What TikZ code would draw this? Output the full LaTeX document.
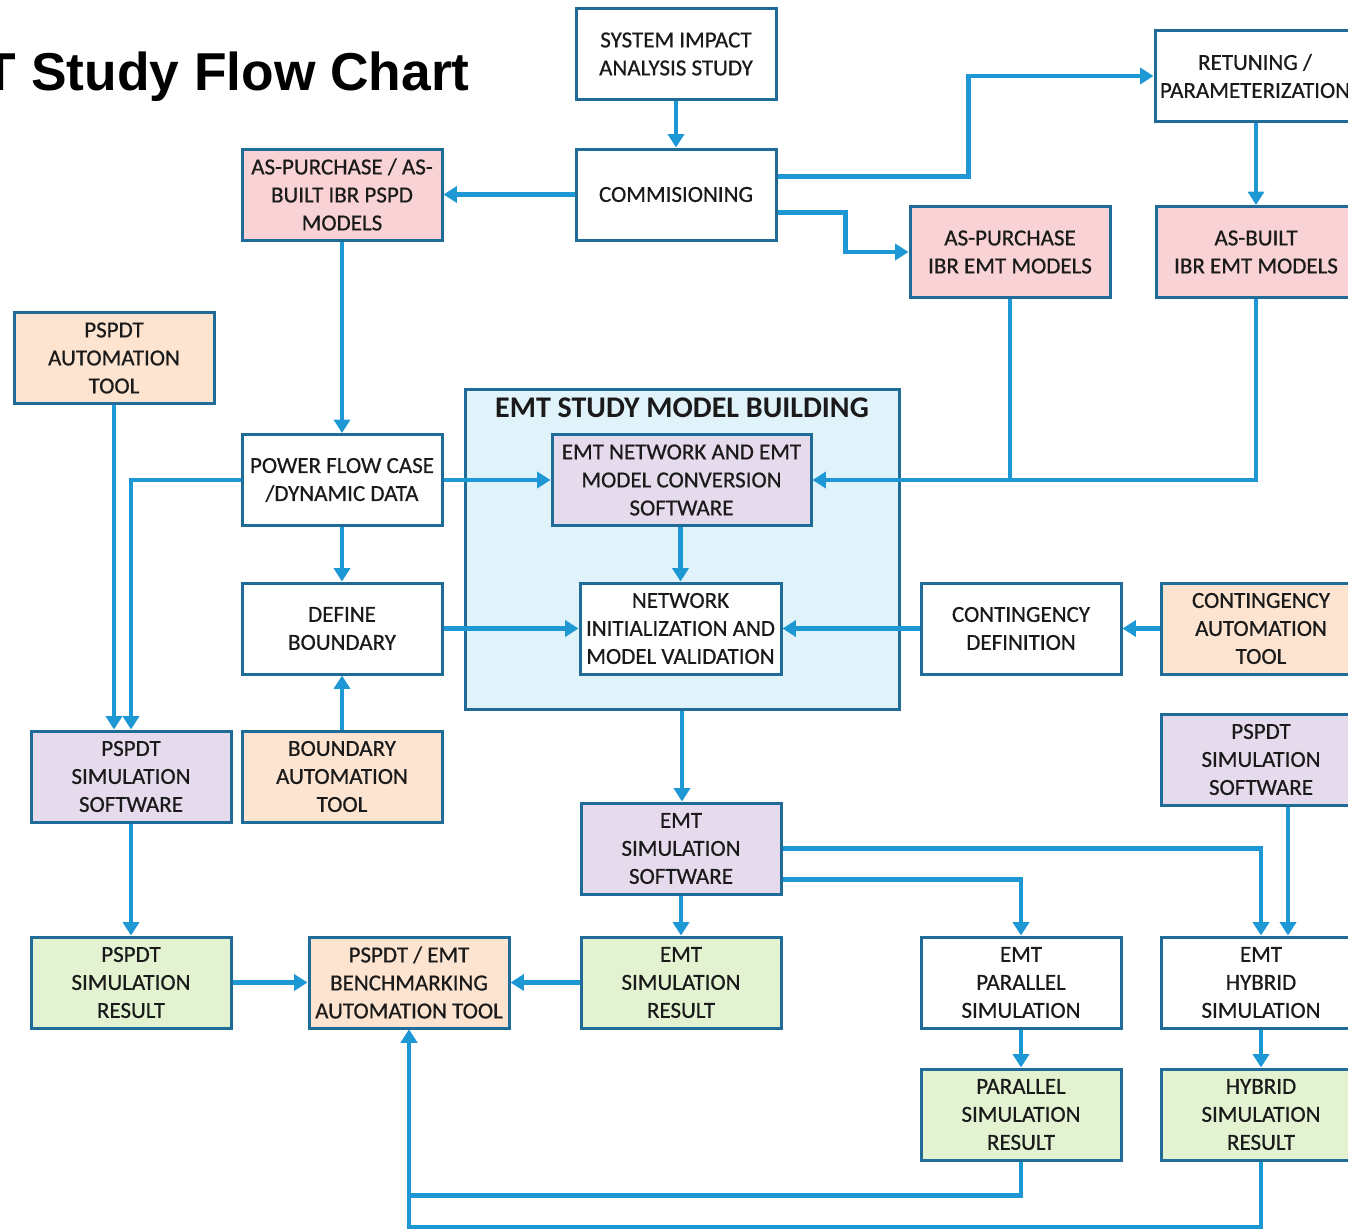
\documentclass[tikz,border=0pt]{standalone}
\usepackage{fontspec}
\usetikzlibrary{arrows.meta,calc}
\newfontfamily\carl[FakeBold=0.6]{Carlito}
\newfontfamily\carlb{Carlito}
\newfontfamily\lsans{Liberation Sans}
\newcommand\boxfnt{\carl\fontsize{17.25}{21}\selectfont}
\newcommand\contfnt{\carlb\bfseries\fontsize{22.5}{26}\selectfont}
\newcommand\titlefnt{\lsans\bfseries\fontsize{40}{46}\selectfont}
\definecolor{bdr}{HTML}{1F6C99}
\definecolor{cl}{HTML}{1E98D5}
\definecolor{pinkf}{HTML}{F8D2D4}
\definecolor{peachf}{HTML}{FDE4D0}
\definecolor{lavf}{HTML}{E6DBED}
\definecolor{greenf}{HTML}{E3F2D1}
\definecolor{contf}{HTML}{E1F3FA}
\definecolor{txt}{HTML}{1A1A1A}
\tikzset{
  box/.style={draw=bdr, line width=2.25pt, minimum width=150pt, minimum height=68.25pt,
    inner sep=0pt, align=center, font=\boxfnt, text=txt, fill=white},
  conn/.style={draw=cl, line width=3.5pt, -{Triangle[length=10pt,width=12pt]}},
  plain/.style={draw=cl, line width=3.5pt},
}
\begin{document}
\begin{tikzpicture}[x=0.75pt,y=-0.75pt]
\useasboundingbox (0,0) rectangle (1348,1228);
\clip (0,0) rectangle (1348,1228);
\fill[white] (0,0) rectangle (1348,1228);

\node[anchor=base east, font=\titlefnt, inner sep=0pt] (title) at (470,90) {EMT Study Flow Chart};

% container
\node[draw=bdr, line width=2.25pt, fill=contf, minimum width=325.5pt, minimum height=240pt, inner sep=0pt] (cont) at (682,549) {};
\node[font=\contfnt, text=txt] (conttitle) at (682,408) {EMT STUDY MODEL BUILDING};

% nodes
\node[box] (sia) at (676,54) {SYSTEM IMPACT\\ANALYSIS STUDY};
\node[box] (comm) at (676,194.5) {COMMISIONING};
\node[box] (ret) at (1255,76) {RETUNING /\\PARAMETERIZATION};
\node[box, fill=pinkf] (pspd) at (342,194.5) {AS-PURCHASE / AS-\\BUILT IBR PSPD\\MODELS};
\node[box, fill=pinkf] (asp) at (1010,252) {AS-PURCHASE\\IBR EMT MODELS};
\node[box, fill=pinkf] (asb) at (1256,252) {AS-BUILT\\IBR EMT MODELS};
\node[box, fill=peachf] (pauto) at (114,358) {PSPDT\\AUTOMATION\\TOOL};
\node[box] (pf) at (342,480) {POWER FLOW CASE\\/DYNAMIC DATA};
\node[box, fill=lavf, minimum width=194.25pt] (emtnet) at (681.5,480) {EMT NETWORK AND EMT\\MODEL CONVERSION\\SOFTWARE};
\node[box, minimum width=150.75pt] (ninit) at (680.5,628.5) {NETWORK\\INITIALIZATION AND\\MODEL VALIDATION};
\node[box] (defb) at (342,628.5) {DEFINE\\BOUNDARY};
\node[box] (contd) at (1021,628.5) {CONTINGENCY\\DEFINITION};
\node[box, fill=peachf] (conta) at (1261,628.5) {CONTINGENCY\\AUTOMATION\\TOOL};
\node[box, fill=lavf] (psw) at (131,776.5) {PSPDT\\SIMULATION\\SOFTWARE};
\node[box, fill=peachf] (bauto) at (342,776.5) {BOUNDARY\\AUTOMATION\\TOOL};
\node[box, fill=lavf] (psw2) at (1261,759.5) {PSPDT\\SIMULATION\\SOFTWARE};
\node[box, fill=lavf] (esw) at (681,848.5) {EMT\\SIMULATION\\SOFTWARE};
\node[box, fill=greenf] (pres) at (131,982.5) {PSPDT\\SIMULATION\\RESULT};
\node[box, fill=peachf] (bench) at (409,982.5) {PSPDT / EMT\\BENCHMARKING\\AUTOMATION TOOL};
\node[box, fill=greenf] (eres) at (681,982.5) {EMT\\SIMULATION\\RESULT};
\node[box] (par) at (1021,982.5) {EMT\\PARALLEL\\SIMULATION};
\node[box] (hyb) at (1261,982.5) {EMT\\HYBRID\\SIMULATION};
\node[box, fill=greenf] (parres) at (1021,1114.5) {PARALLEL\\SIMULATION\\RESULT};
\node[box, fill=greenf] (hybres) at (1261,1114.5) {HYBRID\\SIMULATION\\RESULT};

% connectors
\draw[conn] (sia) -- (comm);
\draw[conn] (comm) -- (pspd);
\draw[conn] ([yshift=13.5pt]comm.east) -- ++(191,0) |- (ret.west);
\draw[conn] ([yshift=-13.5pt]comm.east) -- ++(68,0) |- (asp.west);
\draw[conn] (ret.south -| asb.north) -- (asb.north);
\draw[plain] (asp.south) -- (asp.south |- emtnet.east);
\draw[conn] (asb.south) |- (emtnet.east);
\draw[conn] (pspd) -- (pf);
\draw[conn] (pf) -- (emtnet);
\draw[conn] (pf.west) -| (psw.north);
\draw[conn] (pauto.south) -- (pauto.south |- psw.north);
\draw[conn] (pf) -- (defb);
\draw[conn] (defb) -- (ninit);
\draw[conn] (bauto) -- (defb);
\draw[conn] (emtnet.south -| ninit.north) -- (ninit.north);
\draw[conn] (contd) -- (ninit);
\draw[conn] (conta) -- (contd);
\draw[conn] (cont.south) -- (cont.south |- esw.north);
\draw[conn] (esw.east) -| (hyb.north);
\draw[conn] ([yshift=-23.25pt]esw.east) -| (par.north);
\draw[conn] ([xshift=20.25pt]psw2.south) -- ([xshift=20.25pt]hyb.north);
\draw[conn] (esw) -- (eres);
\draw[conn] (eres) -- (bench);
\draw[conn] (pres) -- (bench);
\draw[conn] (psw) -- (pres);
\draw[conn] (par) -- (parres);
\draw[conn] (hyb) -- (hybres);
\draw[conn] (parres.south) -- ++(0,34) -| (bench.south);
\draw[conn] (hybres.south) -- ++(0,66) -| (bench.south);
\end{tikzpicture}
\end{document}
